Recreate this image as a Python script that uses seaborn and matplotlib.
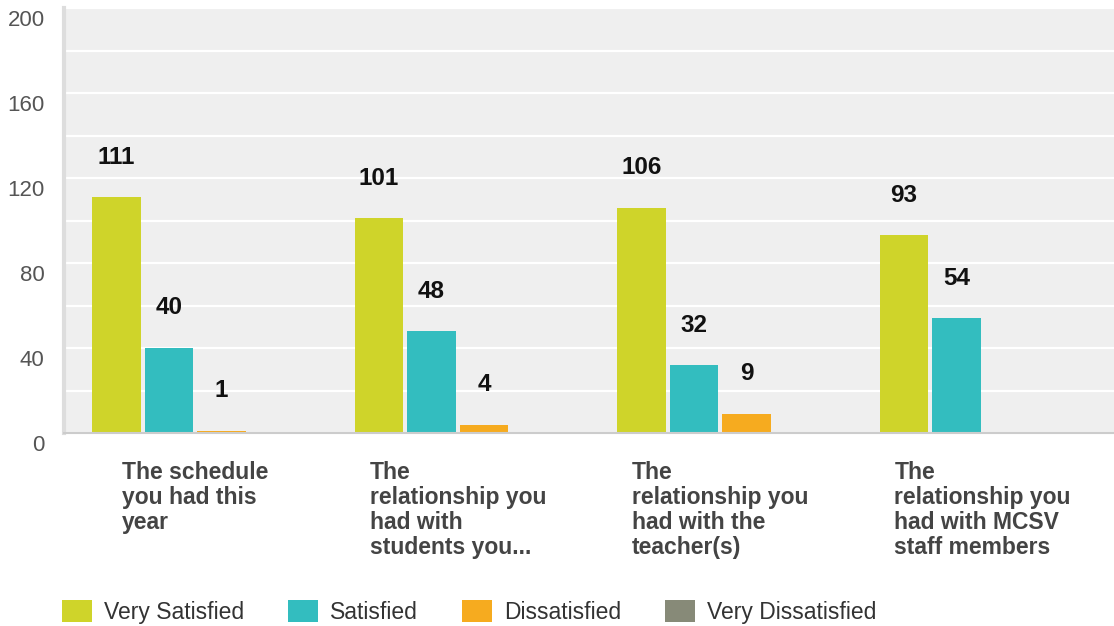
import numpy as np
import pandas as pd
import matplotlib
matplotlib.use("Agg")
import matplotlib.pyplot as plt
import matplotlib.transforms as mtransforms
from matplotlib.patches import Patch
import seaborn as sns

# survey answers, one list per response level
questions = [
    "The schedule\nyou had this\nyear",
    "The\nrelationship you\nhad with\nstudents you...",
    "The\nrelationship you\nhad with the\nteacher(s)",
    "The\nrelationship you\nhad with MCSV\nstaff members",
]
levels = ["Very Satisfied", "Satisfied", "Dissatisfied", "Very Dissatisfied"]
very_satisfied = [111, 101, 106, 93]
satisfied = [40, 48, 32, 54]
dissatisfied = [1, 4, 9, 0]
very_dissatisfied = [0, 0, 0, 0]
y_ticks = [0, 40, 80, 120, 160, 200]

colors = ["#cfd42a", "#33bdbf", "#f6ab1f", "#878a78"]

rows = []
for lvl, vals in zip(levels, [very_satisfied, satisfied, dissatisfied, very_dissatisfied]):
    for q, v in zip(questions, vals):
        rows.append({"question": q, "level": lvl, "count": v})
df = pd.DataFrame(rows)

sns.set_style("white")
plt.rcParams["font.family"] = ["Liberation Sans", "DejaVu Sans"]

fig = plt.figure(figsize=(11.14, 6.26), dpi=100)
ax = fig.add_axes([64 / 1114, 1 - 433 / 626, 1 - 64 / 1114, (433 - 8) / 626])
ax.set_facecolor("#efefef")

sns.barplot(data=df, x="question", y="count", hue="level", order=questions,
            hue_order=levels, palette=colors, saturation=1, width=0.8, gap=0.08,
            linewidth=0, legend=False, ax=ax)

# value labels above bars (zero bars get none)
for cont in ax.containers:
    for bar in cont:
        h = bar.get_height()
        if h > 0:
            ax.annotate(f"{int(h)}", (bar.get_x() + bar.get_width() / 2, h),
                        xytext=(0, 40), textcoords="offset pixels",
                        ha="center", va="center", fontsize=17.5,
                        fontweight="bold", color="#111111")

ax.set_xlim(-0.5, 3.5)
ax.set_ylim(0, 200)
ax.set_yticks(y_ticks)
ax.set_yticks(np.arange(20, 200, 40), minor=True)
ax.grid(axis="y", which="both", color="white", linewidth=1.6)
ax.set_axisbelow(True)
ax.set_xlabel("")
ax.set_ylabel("")

ax.tick_params(axis="y", length=0, pad=14, labelsize=16, labelcolor="#555555")
ax.tick_params(axis="y", which="minor", length=0)
offset = mtransforms.ScaledTranslation(0, -10 / 100, fig.dpi_scale_trans)
for lab in ax.get_yticklabels():
    lab.set_transform(lab.get_transform() + offset)

ax.set_xticks(range(len(questions)))
ax.set_xticklabels(questions, fontsize=16.5, fontweight="bold", color="#444444",
                   ha="center", va="top", multialignment="left", linespacing=1.12)
ax.tick_params(axis="x", length=0, pad=20)

for s in ["top", "right"]:
    ax.spines[s].set_visible(False)
ax.spines["left"].set_color("#dddddd")
ax.spines["left"].set_linewidth(3)
ax.spines["bottom"].set_color("#cccccc")
ax.spines["bottom"].set_linewidth(1.5)

handles = [Patch(facecolor=c, edgecolor="none", label=l) for c, l in zip(colors, levels)]
fig.legend(handles=handles, loc="center left", bbox_to_anchor=(62 / 1114, 1 - 612 / 626),
           ncol=4, frameon=False, fontsize=16.5, handlelength=1.3, handleheight=1.1,
           handletextpad=0.55, columnspacing=1.9, borderpad=0, borderaxespad=0,
           labelcolor="#333333")

fig.savefig("out.png", dpi=100)
